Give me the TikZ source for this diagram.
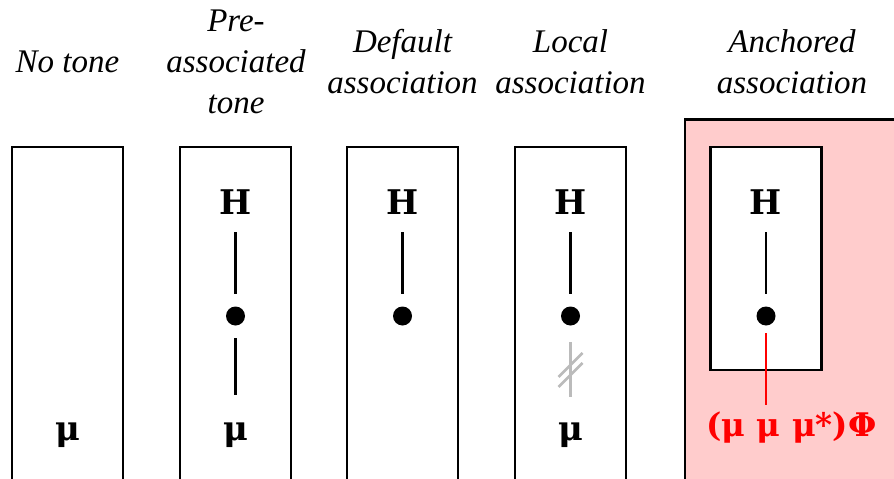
\documentclass[tikz,border=0pt]{standalone}
\usepackage{fontspec}
\usetikzlibrary{calc}
\setmainfont{Liberation Serif}
\newfontfamily\symfont{DejaVu Serif}
\definecolor{pinkbg}{HTML}{FFCCCC}
\definecolor{crossgray}{HTML}{BBBBBB}
\begin{document}
\begin{tikzpicture}[x=1pt,y=-1pt,
  head/.style={font=\fontsize{33}{41}\selectfont\itshape, align=center, inner sep=0pt},
  col/.style={draw=black, line width=2.7pt, fill=white, minimum width=111pt, minimum height=360pt, anchor=north, inner sep=0pt},
  sym/.style={font=\fontsize{34}{40}\selectfont\symfont\bfseries, inner sep=0pt, anchor=base},
  dotn/.style={circle, fill=black, minimum size=19pt, inner sep=0pt},
  link/.style={line width=2.8pt},
  redtext/.style={font=\fontsize{32.5}{38}\selectfont\symfont\bfseries, text=red, inner sep=0pt, anchor=base},
]
\useasboundingbox (0,0) rectangle (894,479);
\clip (0,0) rectangle (894,479);

% pink background for anchored association
\node[draw=black, line width=2.7pt, fill=pinkbg, minimum width=260pt, minimum height=400pt, anchor=north west, inner sep=0pt] (pinkbox) at (683.5,118) {};

% headings
\node[head] (h1) at (67.5,62) {No tone};
\node[head] (h2) at (236,62) {Pre-\\associated\\tone};
\node[head] (h3) at (402.5,62) {Default\\association};
\node[head] (h4) at (570.5,62) {Local\\association};
\node[head] (h5) at (792,62) {Anchored\\association};

% columns
\node[col] (c1) at (67.5,145.5) {};
\node[col] (c2) at (235.5,145.5) {};
\node[col] (c3) at (402.5,145.5) {};
\node[col] (c4) at (570.5,145.5) {};
\node[col, minimum height=223pt] (c5) at (766,145.5) {};

% column 1
\node[sym] (m1) at (67.5,440) {μ};

% column 2
\node[sym] (H2) at (235.5,214) {H};
\node[dotn] (d2) at (235.5,316) {};
\node[sym] (m2) at (235.5,440) {μ};
\draw[link, shorten <=18pt, shorten >=22pt] (H2.south) -- (d2.center);
\draw[link, shorten <=22pt, shorten >=27pt] (d2.center) -- (m2.north);

% column 3
\node[sym] (H3) at (402.5,214) {H};
\node[dotn] (d3) at (402.5,316) {};
\draw[link, shorten <=18pt, shorten >=22pt] (H3.south) -- (d3.center);

% column 4
\node[sym] (H4) at (570.5,214) {H};
\node[dotn] (d4) at (570.5,316) {};
\node[sym] (m4) at (570.5,440) {μ};
\draw[link, shorten <=18pt, shorten >=22pt] (H4.south) -- (d4.center);
\coordinate (x4a) at (570.5,342);
\coordinate (x4b) at (570.5,397);
\coordinate (x4m) at ($(x4a)!0.5!(x4b)$);
\draw[line width=2.8pt, crossgray] (x4a) -- (x4b);
\draw[line width=2.8pt, crossgray] ($(x4m)+(-12,7.5)$) -- ++(24,-24);
\draw[line width=2.8pt, crossgray] ($(x4m)+(-12,17.5)$) -- ++(24,-24);

% column 5 (anchored)
\node[sym] (H5) at (766,214) {H};
\node[dotn] (d5) at (766,316) {};
\draw[link, shorten <=18pt, shorten >=22pt] (H5.south) -- (d5.center);
\node[redtext] (f5) at (791.5,436) {(μ μ μ*)Φ};
\draw[link, red, shorten <=17pt] (d5.center) -- ++(0,89);
\end{tikzpicture}
\end{document}
